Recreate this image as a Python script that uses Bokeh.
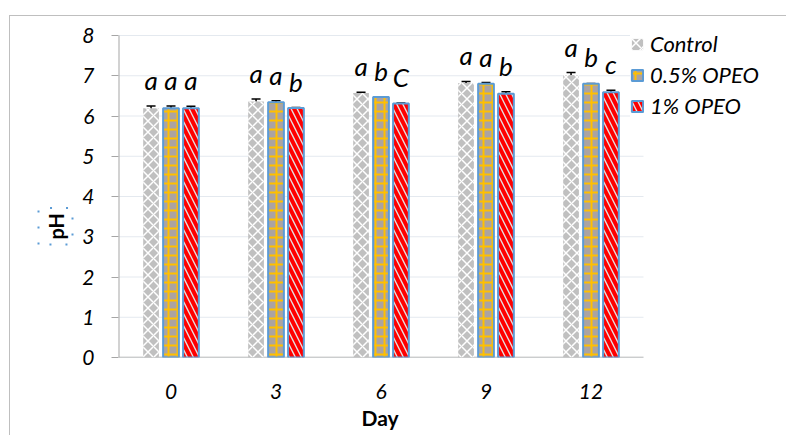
import math
from bokeh.plotting import figure
from bokeh.models import (Range1d, Whisker, TeeHead, ColumnDataSource,
                          Legend, LegendItem, Title, FixedTicker)
from bokeh.transform import dodge
from bokeh.core.properties import value
from bokeh.embed import file_html
from bokeh.resources import INLINE

days = ["0", "3", "6", "9", "12"]
series_names = ["Control", "0.5% OPEO", "1% OPEO"]
control = [6.19, 6.36, 6.57, 6.82, 7.02]
opeo05 = [6.19, 6.34, 6.47, 6.80, 6.80]
opeo1 = [6.19, 6.20, 6.31, 6.55, 6.59]
control_err = [0.06, 0.06, 0.02, 0.04, 0.06]
opeo05_err = [0.06, 0.04, 0.01, 0.03, 0.01]
opeo1_err = [0.05, 0.01, 0.01, 0.05, 0.05]
control_letters = ["a", "a", "a", "a", "a"]
opeo05_letters = ["a", "a", "b", "a", "b"]
opeo1_letters = ["a", "b", "C", "b", "c"]
y_ticks = [0, 1, 2, 3, 4, 5, 6, 7, 8]

FONT = "Lato"

# category slots: one unit per day, centred at i + 0.5
slot = [i + 0.5 for i in range(len(days))]
n_slots = len(days)
X_END = n_slots * 669.0 / 525.0   # extra room at the right for the legend
Y_END = y_ticks[-1] * 332.0 / 322.0  # a little head-room above the top tick for the legend

p = figure(x_range=Range1d(0, X_END), y_range=Range1d(y_ticks[0], Y_END),
           width=777, height=420, output_backend="svg", toolbar_location=None,
           min_border_left=108, min_border_right=0, min_border_top=9,
           min_border_bottom=79)
p.styles = {"margin-left": "9px", "margin-top": "15px",
            "border-left": "1px solid #bfbfbf", "border-top": "1px solid #bfbfbf"}
p.outline_line_color = None
p.background_fill_color = "white"
p.border_fill_color = "white"

p.xgrid.grid_line_color = None
p.ygrid.grid_line_color = None
# horizontal gridlines spanning only the category area
p.segment(x0=0, x1=n_slots, y0=y_ticks, y1=y_ticks, line_color="#e4e9ef",
          line_width=1, level="underlay")
# axis baselines spanning only the category area / tick range
p.segment(x0=0, x1=n_slots, y0=0, y1=0, line_color="#a6a6a6", line_width=1.5)
p.segment(x0=0, x1=0, y0=y_ticks[0], y1=y_ticks[-1], line_color="#a6a6a6", line_width=2)

p.yaxis.ticker = FixedTicker(ticks=y_ticks)
p.yaxis.axis_line_color = None
p.yaxis.major_tick_line_color = "#a6a6a6"
p.yaxis.major_tick_out = 7
p.yaxis.major_tick_in = 0
p.yaxis.minor_tick_line_color = None
p.yaxis.major_label_standoff = 17
p.yaxis.major_label_text_font = FONT
p.yaxis.major_label_text_font_style = "italic"
p.yaxis.major_label_text_font_size = "21px"
p.yaxis.major_label_text_color = "black"

p.xaxis.ticker = FixedTicker(ticks=slot)
p.xaxis.major_label_overrides = {s: d for s, d in zip(slot, days)}
p.xaxis.axis_line_color = None
p.xaxis.major_tick_line_color = None
p.xaxis.minor_tick_line_color = None
p.xaxis.major_tick_out = 0
p.xaxis.major_tick_in = 0
p.xaxis.major_label_standoff = 26
p.xaxis.major_label_text_font = FONT
p.xaxis.major_label_text_font_style = "italic"
p.xaxis.major_label_text_font_size = "21px"
p.xaxis.major_label_text_color = "black"

offsets = [-0.19, 0.0, 0.19]
values = [control, opeo05, opeo1]
errs = [control_err, opeo05_err, opeo1_err]
letters = [control_letters, opeo05_letters, opeo1_letters]
styles = [
    dict(fill_color="#c0c0c0", hatch_pattern="diagonal_cross", hatch_color="white",
         hatch_scale=11, hatch_weight=1.5, line_color=None),
    dict(fill_color="#aba3a2", hatch_pattern="cross", hatch_color="#ffc000",
         hatch_scale=9, hatch_weight=2, line_color="#5b9bd5", line_width=2),
    dict(fill_color="#e3e3e3", hatch_pattern="left_diagonal_line", hatch_color="#ff0000",
         hatch_scale=12, hatch_weight=4, line_color="#5b9bd5", line_width=2),
]

items = []
for name, vals, er, let, off, st in zip(series_names, values, errs, letters, offsets, styles):
    src = ColumnDataSource(dict(
        pos=slot, top=vals,
        upper=[v + e for v, e in zip(vals, er)],
        lower=[v - e for v, e in zip(vals, er)],
        letter=let))
    r = p.vbar(x=dodge("pos", off), top="top", width=0.15, source=src, **st)
    items.append(LegendItem(label=name, renderers=[r]))
    w = Whisker(base=dodge("pos", off), upper="upper", lower="lower",
                source=src, line_color="black", line_width=1.5,
                upper_head=TeeHead(size=9, line_color="black", line_width=1.5),
                lower_head=TeeHead(size=9, line_color="black", line_width=1.5))
    p.add_layout(w)
    p.text(x=dodge("pos", off), y="upper", text="letter", source=src,
           text_align="center", text_baseline="alphabetic", y_offset=-26,
           text_font=value(FONT), text_font_style="italic", text_font_size="26px",
           text_color="black")

legend = Legend(items=items, location=(512, 238), orientation="vertical",
                glyph_width=14, glyph_height=14, label_standoff=6, spacing=4,
                padding=2, margin=0, border_line_color=None,
                background_fill_color="white", background_fill_alpha=1.0,
                label_text_font=FONT, label_text_font_style="italic",
                label_text_font_size="22px", label_text_color="black")
p.add_layout(legend, "center")

p.add_layout(Title(text="Day", align="left", offset=243, standoff=2,
                   text_font=FONT, text_font_style="bold", text_font_size="21px",
                   text_color="black"), "below")

ph_title = Title(text="pH", align="left", vertical_align="top", offset=113, standoff=10,
                 text_font=FONT, text_font_style="bold", text_font_size="20px",
                 text_color="black", border_line_color="#5b9bd5",
                 border_line_dash="2 14", border_line_width=2, padding=5)
p.add_layout(ph_title, "left")

open("out.html", "w").write(file_html(p, INLINE))
